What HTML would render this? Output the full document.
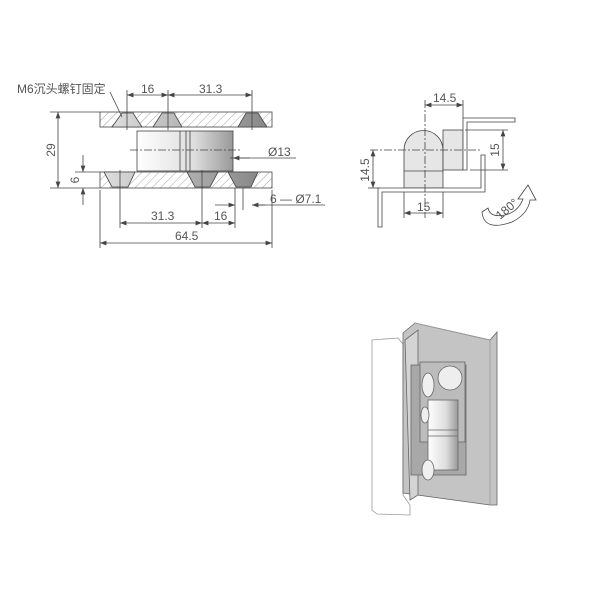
<!DOCTYPE html>
<html><head><meta charset="utf-8"><style>
html,body{margin:0;padding:0;background:#fff}
svg{display:block}
text{font-family:"Liberation Sans","Noto Sans CJK SC",sans-serif;fill:#555;font-size:12px}
</style></head><body>
<svg width="600" height="600" viewBox="0 0 600 600" xmlns="http://www.w3.org/2000/svg">
<defs>
<pattern id="h" width="6" height="6" patternUnits="userSpaceOnUse" patternTransform="rotate(45)">
<line x1="0" y1="0" x2="0" y2="6" stroke="#888" stroke-width="0.8"/></pattern>
<marker id="a" markerWidth="8" markerHeight="6" refX="8" refY="3" orient="auto-start-reverse"><path d="M0,0 L8,3 L0,6z" fill="#444"/></marker>
<linearGradient id="cyl" x1="0" x2="1"><stop offset="0" stop-color="#fff"/><stop offset="0.6" stop-color="#ddd"/><stop offset="1" stop-color="#999"/></linearGradient>
<linearGradient id="cs" x1="0" x2="1"><stop offset="0" stop-color="#ddd"/><stop offset="1" stop-color="#888"/></linearGradient>
</defs>
<g stroke="#444" stroke-width="0.8" fill="none">
<rect x="100" y="112" width="172" height="15" fill="url(#h)"/>
<rect x="100" y="172" width="172" height="16" fill="url(#h)"/>
<path d="M112,127 L122,113 L133,113 L142,127Z M153,127 L162,113 L174,113 L182,127Z M238,127 L246,113 L258,113 L267,127Z" fill="url(#cs)"/>
<path d="M104,172 L135,172 L128,187 L112,187Z M187,172 L218,172 L210,187 L195,187Z M228,172 L258,172 L251,187 L236,187Z" fill="url(#cs)"/>
<rect x="137" y="131" width="96" height="40" fill="url(#cyl)"/>
<line x1="180" y1="131" x2="180" y2="171"/><line x1="186" y1="131" x2="186" y2="171"/>
<line x1="190" y1="131" x2="190" y2="171"/>
<line x1="130" y1="150" x2="240" y2="150" stroke-dasharray="8,2,2,2"/>
<line x1="50" y1="112" x2="100" y2="112"/><line x1="50" y1="188" x2="100" y2="188"/>
<line x1="58" y1="112" x2="58" y2="188" marker-start="url(#a)" marker-end="url(#a)"/>
<line x1="75" y1="172" x2="100" y2="172"/>
<line x1="83" y1="155" x2="83" y2="172" marker-end="url(#a)"/>
<line x1="83" y1="205" x2="83" y2="188" marker-end="url(#a)"/>
<line x1="127" y1="90" x2="127" y2="130"/><line x1="168" y1="90" x2="168" y2="130"/><line x1="252" y1="90" x2="252" y2="130"/>
<line x1="127" y1="95" x2="168" y2="95" marker-start="url(#a)" marker-end="url(#a)"/>
<line x1="168" y1="95" x2="252" y2="95" marker-start="url(#a)" marker-end="url(#a)"/>
<line x1="120" y1="170" x2="120" y2="228"/><line x1="202" y1="170" x2="202" y2="228"/><line x1="235" y1="188" x2="235" y2="228"/>
<line x1="243" y1="188" x2="243" y2="210"/>
<line x1="120" y1="223" x2="202" y2="223" marker-start="url(#a)" marker-end="url(#a)"/>
<line x1="202" y1="223" x2="235" y2="223" marker-start="url(#a)" marker-end="url(#a)"/>
<line x1="100" y1="190" x2="100" y2="248"/><line x1="272" y1="190" x2="272" y2="248"/>
<line x1="100" y1="243" x2="272" y2="243" marker-start="url(#a)" marker-end="url(#a)"/>
<line x1="215" y1="205" x2="235" y2="205" marker-end="url(#a)"/>
<line x1="325" y1="205" x2="255" y2="205"/>
<line x1="265" y1="205" x2="252" y2="205" marker-end="url(#a)"/>
<line x1="230" y1="158" x2="296" y2="158"/>
<line x1="250" y1="158" x2="233" y2="158" marker-end="url(#a)"/>
<line x1="110" y1="92" x2="122" y2="117"/>
<path d="M404,188 L404,150 A19.5,19.5 0 0 1 443,150 L443,188Z" fill="#e6e6e6"/>
<line x1="404" y1="171" x2="443" y2="171"/>
<rect x="443" y="130" width="20" height="40" fill="#e6e6e6"/>
<path d="M463,170 L463,118 L515,118 L515,122 L467,122 L467,170Z" fill="#fff"/>
<path d="M378,227 L378,188 L481,188 L481,155 L485,155 L485,192 L382,192 L382,227Z" fill="#fff"/>
<line x1="370" y1="150" x2="480" y2="150" stroke-dasharray="8,2,2,2"/>
<line x1="425" y1="100" x2="425" y2="218" stroke-dasharray="8,2,2,2"/>
<line x1="463" y1="100" x2="463" y2="118"/>
<line x1="425" y1="105" x2="463" y2="105" marker-start="url(#a)" marker-end="url(#a)"/>
<line x1="465" y1="130" x2="508" y2="130"/><line x1="470" y1="170" x2="508" y2="170"/>
<line x1="503" y1="130" x2="503" y2="170" marker-start="url(#a)" marker-end="url(#a)"/>
<line x1="368" y1="188" x2="380" y2="188"/>
<line x1="373" y1="150" x2="373" y2="188" marker-start="url(#a)" marker-end="url(#a)"/>
<line x1="404" y1="192" x2="404" y2="218"/><line x1="443" y1="192" x2="443" y2="218"/>
<line x1="404" y1="213" x2="443" y2="213" marker-start="url(#a)" marker-end="url(#a)"/>
<path d="M482,212 Q484,232 512,222 Q528,214 530,200 L536,200 L528,185 L518,199 L523,199 Q518,212 505,215 Q490,218 488,208 Z" fill="#fff"/>
</g>
<g stroke="#666" stroke-width="0.8">
<path d="M372,340 L398,338 L403,344 L403,495 L410,505 L410,515 L377,514 L372,510Z" fill="#fff" stroke="#999"/>
<path d="M403,333 L415,323 L490,340 L497,332 L497,505 L490,505 L403,493Z" fill="#c4c4c4"/>
<path d="M415,323 L490,340 L490,505" fill="none" stroke="#999"/>
<path d="M405,340 L418,330 L418,495 L410,500Z" fill="#d4d4d4"/>
<rect x="411" y="365" width="55" height="110" fill="#a8a8a8"/>
<rect x="420" y="362" width="45" height="80" fill="#bcbcbc"/>
<ellipse cx="450" cy="378" rx="12" ry="12" fill="#eee"/>
<ellipse cx="428" cy="385" rx="6" ry="12" fill="#f0f0f0"/>
<rect x="428" y="400" width="30" height="70" fill="url(#cyl)"/>
<line x1="428" y1="430" x2="458" y2="430"/><line x1="428" y1="436" x2="458" y2="436"/>
<ellipse cx="425" cy="415" rx="4" ry="8" fill="#eee"/>
<ellipse cx="428" cy="470" rx="6" ry="10" fill="#f0f0f0"/>
</g>
<g>
<text x="17" y="93">M6沉头螺钉固定</text>
<text x="141" y="93">16</text>
<text x="199" y="93">31.3</text>
<text x="151" y="220">31.3</text>
<text x="214" y="220">16</text>
<text x="175" y="240">64.5</text>
<text x="270" y="203">6 — Ø7.1</text>
<text x="268" y="156">Ø13</text>
<text x="55" y="150" transform="rotate(-90 55 150)" text-anchor="middle">29</text>
<text x="79" y="180" transform="rotate(-90 79 180)" text-anchor="middle">6</text>
<text x="433" y="102">14.5</text>
<text x="499" y="150" transform="rotate(-90 499 150)" text-anchor="middle">15</text>
<text x="369" y="170" transform="rotate(-90 369 170)" text-anchor="middle">14.5</text>
<text x="417" y="211">15</text>
<text x="500" y="220" transform="rotate(-40 500 220)">180°</text>
</g>
</svg>
</body></html>
